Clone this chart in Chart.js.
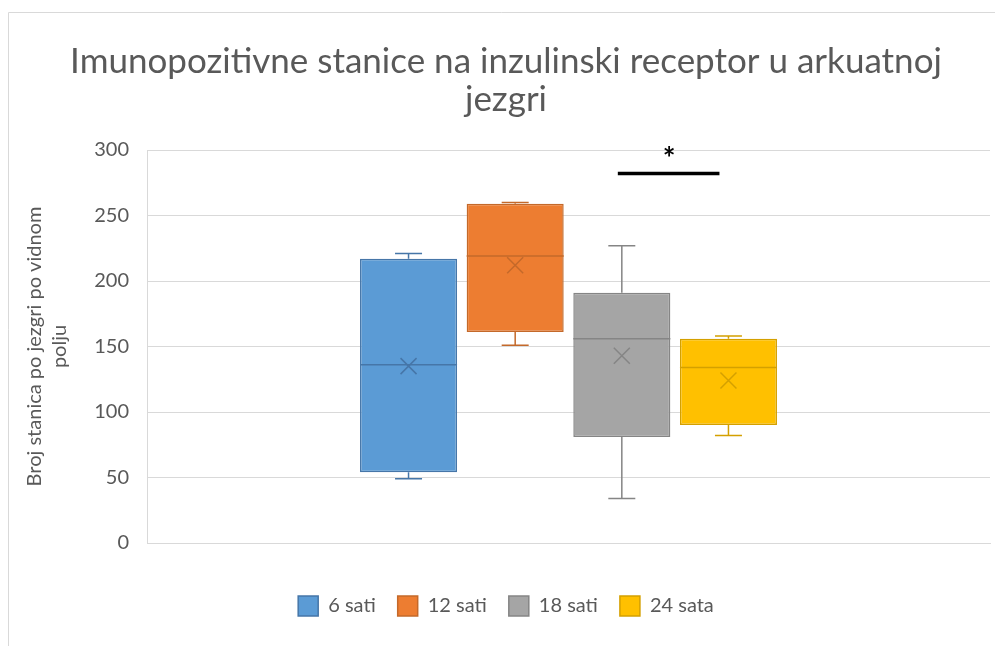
<!DOCTYPE html>
<html>
<head>
<meta charset="utf-8">
<script src="https://cdn.jsdelivr.net/npm/chart.js@4.4.1/dist/chart.umd.min.js"></script>
<style>
  html, body { margin: 0; padding: 0; background: #fff; }
  #wrap { position: relative; width: 995px; height: 646px; }
</style>
</head>
<body>
<div id="wrap"><canvas id="boxChart"></canvas></div>
<script>
// ===== data =====
const seriesNames = ["6 sati", "12 sati", "18 sati", "24 sata"];
const minVals    = [49, 151, 34, 82];
const q1Vals     = [54, 161, 81, 90];
const medianVals = [136, 219, 156, 134];
const q3Vals     = [217, 259, 191, 156];
const maxVals    = [221, 260, 227, 158];
const meanVals   = [135, 212, 143, 124];
const yTicks     = [0, 50, 100, 150, 200, 250, 300];
const starLevel  = 282;   // significance bar between 18 and 24 h

const fills   = ["#5b9bd5", "#ed7d31", "#a5a5a5", "#ffc000"];
const strokes = ["#4676a8", "#c4692a", "#858585", "#d4a000"];

const FONT = "Lato, 'Open Sans', sans-serif";
const TEXT = "#595959";

/** ===== whiskers, medians, means, star ===== */
const boxExtras = {
    id: "boxExtras",
    beforeDraw(chart) {
        const { ctx } = chart;
        ctx.save();
        ctx.strokeStyle = "#d9d9d9";
        ctx.lineWidth = 1;
        ctx.beginPath();
        ctx.moveTo(8.5, chart.height);
        ctx.lineTo(8.5, 12.5);
        ctx.lineTo(chart.width, 12.5);
        ctx.stroke();
        ctx.restore();
    },
    afterDatasetsDraw(chart) {
        const { ctx } = chart;
        const y = chart.scales.y;
        ctx.save();
        seriesNames.forEach((_, i) => {
            const bar = chart.getDatasetMeta(i).data[0];
            if (!bar) return;
            const x = bar.x;
            const half = bar.width / 2;
            const cap = 13.5;
            ctx.strokeStyle = strokes[i];
            ctx.lineWidth = 1.5;
            ctx.beginPath();
            // upper whisker
            ctx.moveTo(x, y.getPixelForValue(q3Vals[i]));
            ctx.lineTo(x, y.getPixelForValue(maxVals[i]));
            ctx.moveTo(x - cap, y.getPixelForValue(maxVals[i]));
            ctx.lineTo(x + cap, y.getPixelForValue(maxVals[i]));
            // lower whisker
            ctx.moveTo(x, y.getPixelForValue(q1Vals[i]));
            ctx.lineTo(x, y.getPixelForValue(minVals[i]));
            ctx.moveTo(x - cap, y.getPixelForValue(minVals[i]));
            ctx.lineTo(x + cap, y.getPixelForValue(minVals[i]));
            // median
            ctx.moveTo(x - half, y.getPixelForValue(medianVals[i]));
            ctx.lineTo(x + half, y.getPixelForValue(medianVals[i]));
            ctx.stroke();
            // mean marker (x)
            const my = y.getPixelForValue(meanVals[i]);
            ctx.beginPath();
            ctx.moveTo(x - 8, my - 8);
            ctx.lineTo(x + 8, my + 8);
            ctx.moveTo(x + 8, my - 8);
            ctx.lineTo(x - 8, my + 8);
            ctx.stroke();
        });

        // significance bar
        const g = chart.getDatasetMeta(2).data[0];
        const k = chart.getDatasetMeta(3).data[0];
        if (g && k) {
            const sy = y.getPixelForValue(starLevel);
            ctx.strokeStyle = "#000";
            ctx.lineWidth = 3.5;
            ctx.beginPath();
            ctx.moveTo(g.x - 4, sy);
            ctx.lineTo(k.x - 9, sy);
            ctx.stroke();
            ctx.fillStyle = "#000";
            ctx.font = "bold 30px " + FONT;
            ctx.textAlign = "center";
            ctx.textBaseline = "middle";
            ctx.fillText("*", (g.x + k.x) / 2 - 6, sy - 14);
        }
        ctx.restore();
    },
};

const ctx = document.getElementById("boxChart").getContext("2d");

new Chart(ctx, {
    type: "bar",
    data: {
        labels: [""],
        datasets: seriesNames.map((name, i) => ({
            label: name,
            data: [[q1Vals[i], q3Vals[i]]],
            backgroundColor: fills[i],
            borderColor: strokes[i],
            borderWidth: 1.5,
            borderSkipped: false,
            categoryPercentage: 0.506,
            barPercentage: 0.91,
        })),
    },
    options: {
        responsive: true,
        maintainAspectRatio: false,
        animation: false,
        layout: { padding: { left: 22, right: 5, top: 0, bottom: 20 } },
        plugins: {
            tooltip: { enabled: false },
            title: {
                display: true,
                text: ["Imunopozitivne stanice na inzulinski receptor u arkuatnoj", "jezgri"],
                color: TEXT,
                font: { family: FONT, size: 35, weight: "normal", lineHeight: 1.1 },
                padding: { top: 42, bottom: 31 },
            },
            legend: {
                position: "bottom",
                labels: {
                    color: TEXT,
                    font: { family: FONT, size: 20 },
                    boxWidth: 20,
                    boxHeight: 20,
                    padding: 22,
                    generateLabels: (chart) =>
                        seriesNames.map((name, i) => ({
                            text: name,
                            fillStyle: fills[i],
                            strokeStyle: strokes[i],
                            lineWidth: 1.5,
                            datasetIndex: i,
                            fontColor: TEXT,
                        })),
                },
            },
        },
        scales: {
            x: {
                grid: { display: false },
                border: { display: true, color: "#d9d9d9" },
                ticks: { display: false },
                afterFit: (scale) => { scale.height = 31; },
            },
            y: {
                min: 0,
                max: 300,
                afterBuildTicks: (scale) => {
                    scale.ticks = yTicks.map((v) => ({ value: v }));
                },
                grid: { color: "#d9d9d9", drawTicks: false },
                border: { display: true, color: "#d9d9d9" },
                ticks: {
                    color: TEXT,
                    font: { family: FONT, size: 20 },
                    padding: 18,
                },
                title: {
                    display: true,
                    text: ["Broj stanica po jezgri po vidnom", "polju"],
                    color: TEXT,
                    font: { family: FONT, size: 20, lineHeight: 1.25 },
                    padding: { top: 0, bottom: 0 },
                },
                afterFit: (scale) => { scale.width = 125; },
            },
        },
    },
    plugins: [boxExtras],
});
</script>
</body>
</html>
